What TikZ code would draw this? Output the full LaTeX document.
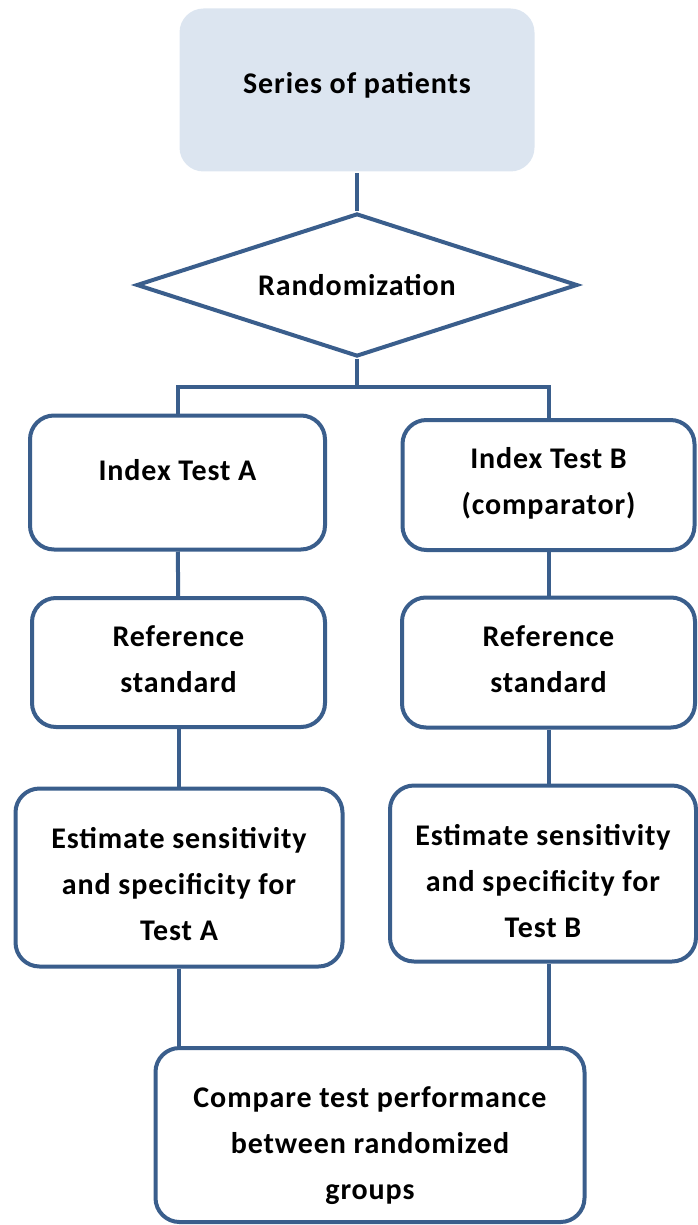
\documentclass[tikz,border=0pt]{standalone}
\usepackage{fontspec}
\setmainfont[LetterSpace=3]{Carlito}
\usetikzlibrary{shapes.geometric,positioning}
\definecolor{boxline}{RGB}{58,94,140}
\definecolor{boxfill}{RGB}{220,229,240}
\tikzset{
  stepbox/.style={draw=boxline, line width=4pt, rounded corners=24pt, fill=white, inner sep=0pt},
  startbox/.style={stepbox, draw=none, fill=boxfill},
  boxtext/.style={align=center, inner sep=0pt, font=\fontsize{30}{46}\selectfont\bfseries},
  decision/.style={diamond, draw=boxline, line width=4pt, inner sep=0pt, aspect=3.05, boxtext},
  conn/.style={draw=boxline, line width=4pt}
}
\begin{document}
\begin{tikzpicture}[x=1pt, y=-1pt]
  \useasboundingbox (0,0) rectangle (698,1225);
  % boxes
  \node[startbox, minimum width=355pt, minimum height=163pt] (patients) at (357,90) {};
  \node[decision, minimum width=441pt, minimum height=143pt] (rand) at (357,285) {Randomization};
  \node[stepbox, minimum width=295pt, minimum height=134pt] (indexA) at (177.5,482.5) {};
  \node[stepbox, minimum width=292pt, minimum height=130pt] (indexB) at (548.5,485) {};
  \node[stepbox, minimum width=293pt, minimum height=129pt] (refA) at (178.5,662.5) {};
  \node[stepbox, minimum width=293pt, minimum height=130pt] (refB) at (548.5,662.5) {};
  \node[stepbox, minimum width=327pt, minimum height=178pt] (estA) at (179,877.5) {};
  \node[stepbox, minimum width=306pt, minimum height=176pt] (estB) at (543,873.5) {};
  \node[stepbox, minimum width=429pt, minimum height=174pt] (compare) at (370,1135) {};
  % texts
  \node[boxtext, yshift=5pt] (patientsText) at (patients) {Series of patients};
  \node[boxtext, yshift=12pt] (indexAText) at (indexA) {Index Test A};
  \node[boxtext, yshift=2pt] (indexBText) at (indexB) {Index Test B\\(comparator)};
  \node[boxtext, yshift=3pt] (refAText) at (refA) {Reference\\standard};
  \node[boxtext, yshift=3pt] (refBText) at (refB) {Reference\\standard};
  \node[boxtext, yshift=-7pt] (estAText) at (estA) {Estimate sensitivity\\and specificity for\\Test A};
  \node[boxtext, yshift=-8pt] (estBText) at (estB) {Estimate sensitivity\\and specificity for\\Test B};
  \node[boxtext, yshift=-11pt] (compareText) at (compare) {Compare test performance\\between randomized\\groups};
  \coordinate (split) at (357,387);
  % top part
  \draw[conn] (patients) -- (rand);
  \draw[conn] (rand) -- (split);
  \draw[conn] (indexA) |- (split) -| (indexB);
  % the two arms
  \draw[conn] (indexA) -- (refA);
  \draw[conn] (indexB) -- (refB);
  \draw[conn] (refA.south) -- (refA.south |- estA.north);
  \draw[conn] (refB.south) -- (refB.south |- estB.north);
  % join
  \draw[conn] (estA.south) -- (estA.south |- compare.north);
  \draw[conn] (refB.south |- estB.south) -- (refB.south |- compare.north);
\end{tikzpicture}
\end{document}
